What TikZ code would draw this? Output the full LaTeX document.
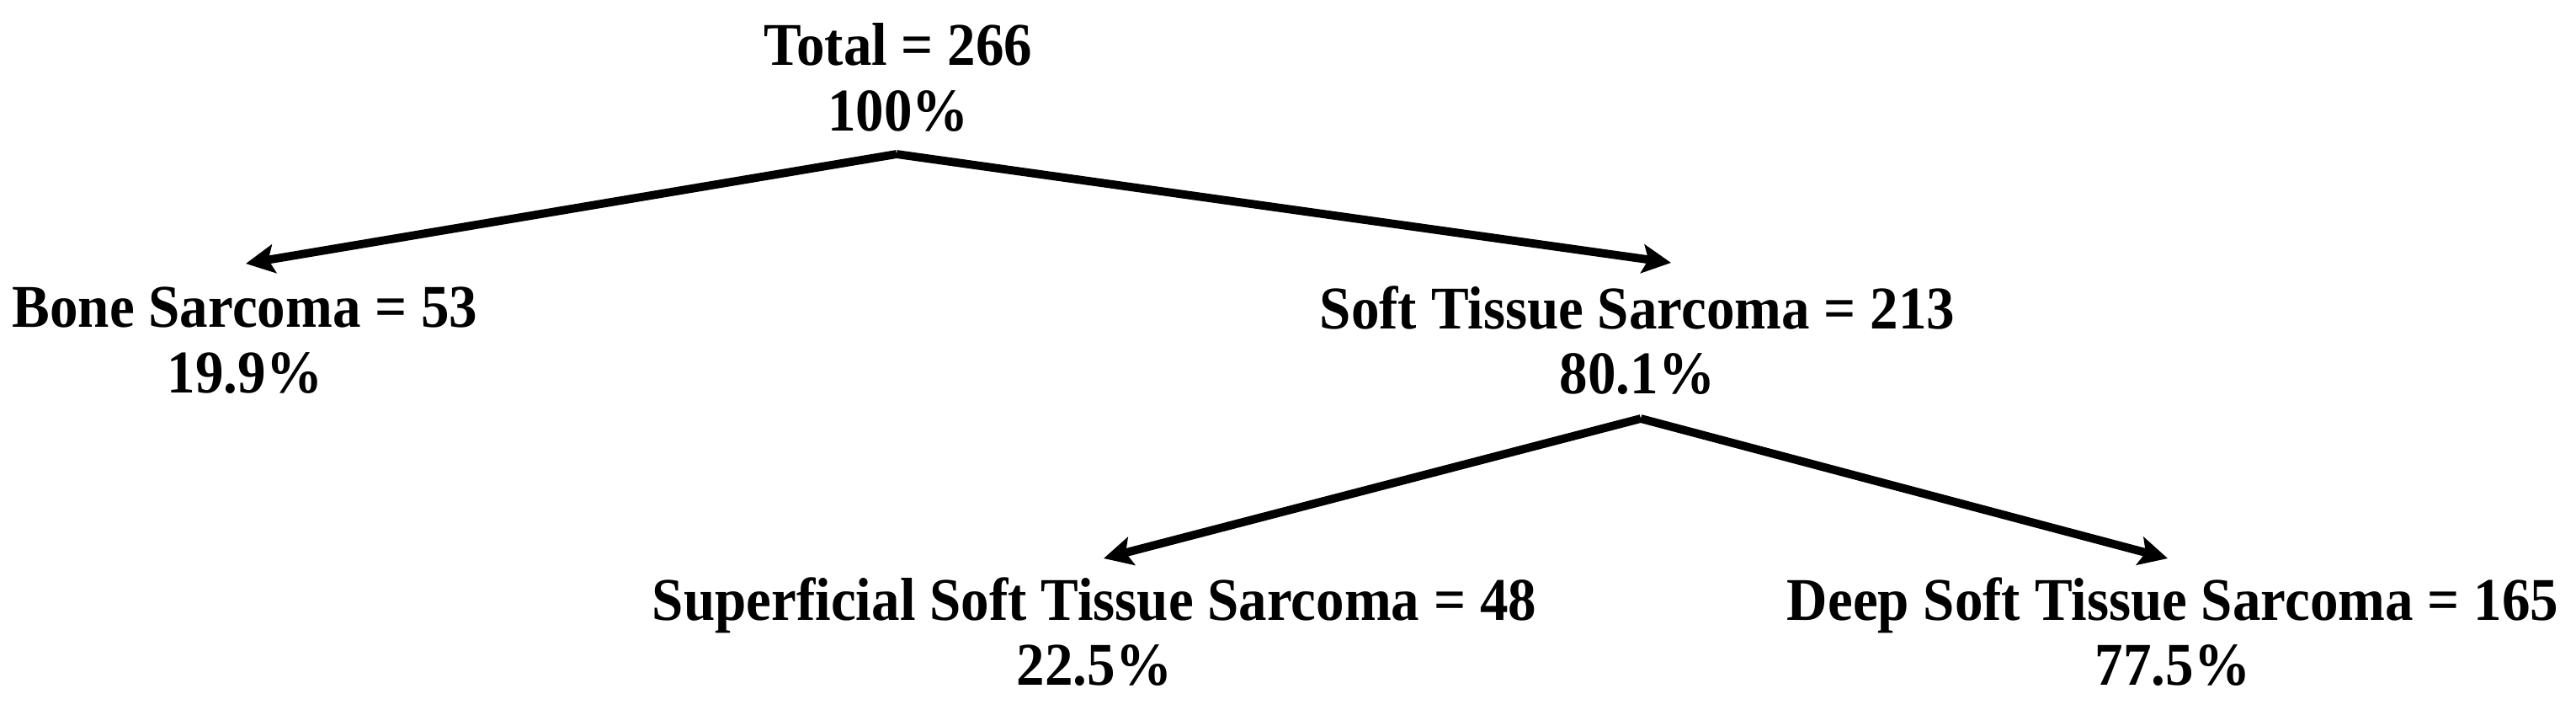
\documentclass[tikz,border=0pt]{standalone}
\usepackage{fontspec}
\setmainfont{Liberation Serif}[FakeStretch=0.93]
\usetikzlibrary{arrows.meta}
\begin{document}
\begin{tikzpicture}[
  lbl/.style={align=center, font=\fontsize{20.5}{22}\selectfont\bfseries, inner sep=0pt},
  conn/.style={line width=2.8pt, -{Stealth[length=0.34cm,width=0.34cm,inset=0.07cm]}}
]
\useasboundingbox (0,0) rectangle (30.6,-8.43);
\node[lbl] (tot) at (10.67,-0.92) {Total = 266\\100\%};
\node[lbl] (bone) at (2.91,-4.04) {Bone Sarcoma = 53\\19.9\%};
\node[lbl] (soft) at (19.45,-4.04) {Soft Tissue Sarcoma = 213\\80.1\%};
\node[lbl] (sup) at (13.0,-7.5) {Superficial Soft Tissue Sarcoma = 48\\22.5\%};
\node[lbl] (deep) at (25.81,-7.5) {Deep Soft Tissue Sarcoma = 165\\77.5\%};
\coordinate (t0) at (10.65,-1.83);
\coordinate (b0) at (2.92,-3.13);
\coordinate (s1) at (19.85,-3.12);
\coordinate (s0) at (19.49,-4.97);
\coordinate (p0) at (13.11,-6.63);
\coordinate (d0) at (25.75,-6.63);
\draw[conn] (t0) -- (b0);
\draw[conn] (t0) -- (s1);
\draw[conn] (s0) -- (p0);
\draw[conn] (s0) -- (d0);
\end{tikzpicture}
\end{document}
